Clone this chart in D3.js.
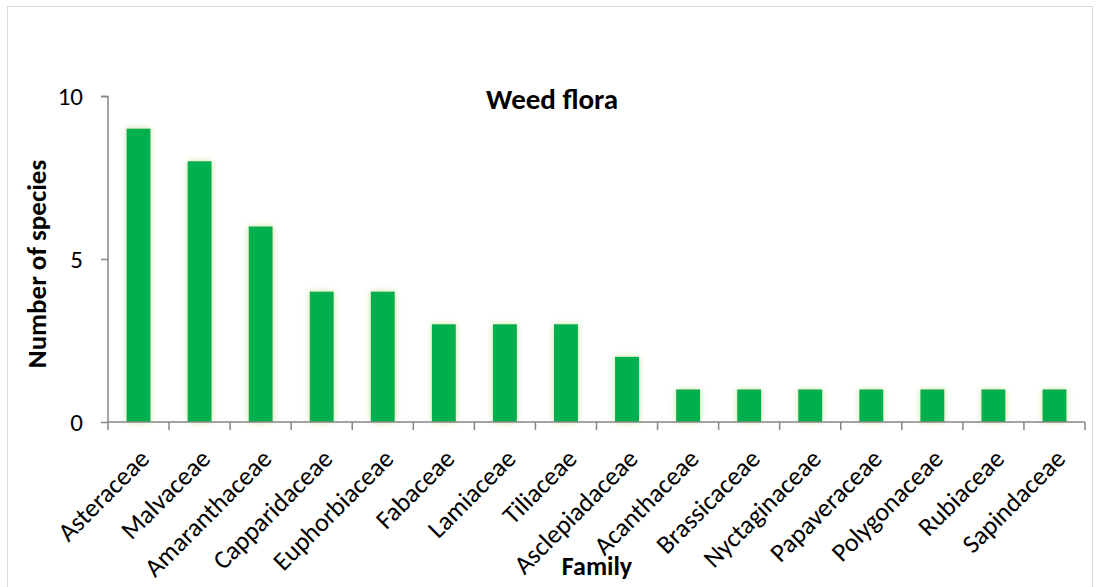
<!DOCTYPE html>
<html>
<head>
<meta charset="utf-8">
<script src="https://cdn.jsdelivr.net/npm/d3@7"></script>
<style>
  body { margin: 0; background: #fff; }
  text { font-family: Carlito, "Open Sans", "Noto Sans", sans-serif; fill: #000; }
</style>
</head>
<body>
<div id="chart"></div>
<script>
const families = ["Asteraceae", "Malvaceae", "Amaranthaceae", "Capparidaceae", "Euphorbiaceae",
    "Fabaceae", "Lamiaceae", "Tiliaceae", "Asclepiadaceae", "Acanthaceae", "Brassicaceae",
    "Nyctaginaceae", "Papaveraceae", "Polygonaceae", "Rubiaceae", "Sapindaceae"];
const species = [9, 8, 6, 4, 4, 3, 3, 3, 2, 1, 1, 1, 1, 1, 1, 1];
const yTicks = [0, 5, 10];

const W = 1099, H = 587;
const margin = { top: 96, right: 14, bottom: 165, left: 108 };
const width = W - margin.left - margin.right,
    height = H - margin.top - margin.bottom;
const AXIS = "#868686", BAR = "#00B050";

const svg = d3.select("#chart").append("svg")
    .attr("width", W)
    .attr("height", H);

// soft glow behind bars
const defs = svg.append("defs");
const glow = defs.append("filter").attr("id", "glow")
    .attr("x", "-40%").attr("y", "-10%").attr("width", "180%").attr("height", "120%");
glow.append("feGaussianBlur").attr("in", "SourceAlpha").attr("stdDeviation", 3).attr("result", "blur");
glow.append("feFlood").attr("flood-color", "#B5E08A").attr("flood-opacity", 0.8);
glow.append("feComposite").attr("in2", "blur").attr("operator", "in").attr("result", "shadow");
const merge = glow.append("feMerge");
merge.append("feMergeNode").attr("in", "shadow");
merge.append("feMergeNode").attr("in", "SourceGraphic");

// outer chart border
svg.append("rect")
    .attr("x", 7.5).attr("y", 6.5)
    .attr("width", 1085).attr("height", 600)
    .attr("fill", "none")
    .attr("stroke", "#D9D9D9");

const g = svg.append("g")
    .attr("transform", `translate(${margin.left},${margin.top})`);

const band = d3.scaleBand().domain(families).range([0, width]);

const y = d3.scaleLinear()
    .domain([0, 10])
    .range([height, 0]);

// bars
g.append("g").selectAll("rect")
    .data(families)
    .enter().append("rect")
    .attr("x", (d) => band(d) + band.bandwidth() / 2 - 12)
    .attr("width", 24)
    .attr("y", (d, i) => y(species[i]))
    .attr("height", (d, i) => height - y(species[i]))
    .attr("fill", BAR)
    .attr("filter", "url(#glow)");

// y axis
const axisY = d3.axisLeft(y).tickValues(yTicks).tickSize(7).tickPadding(18);
const gy = g.append("g").call(axisY);
gy.select(".domain").attr("stroke", AXIS).attr("stroke-width", 1.5).attr("d", `M-7,0.5H0V${height}`);
gy.selectAll(".tick line").attr("stroke", AXIS).attr("stroke-width", 1.5);
gy.selectAll(".tick text").attr("font-size", 25).style("font-family", "Carlito, 'Open Sans', sans-serif");

// x axis with ticks at band edges
const gx = g.append("g").attr("transform", `translate(0,${height})`);
gx.append("line")
    .attr("x1", 0).attr("x2", width)
    .attr("stroke", AXIS).attr("stroke-width", 1.5);
const edges = families.map((d) => band(d)).concat([width]);
gx.selectAll(".edge").data(edges).enter().append("line")
    .attr("class", "edge")
    .attr("x1", (d) => d).attr("x2", (d) => d)
    .attr("y1", 0).attr("y2", 8)
    .attr("stroke", AXIS).attr("stroke-width", 1.5);

gx.selectAll(".lbl").data(families).enter().append("text")
    .attr("class", "lbl")
    .attr("transform", (d) => `translate(${band(d) + band.bandwidth() / 2 + 8},${34}) rotate(-45)`)
    .attr("text-anchor", "end")
    .attr("dominant-baseline", "middle")
    .attr("font-size", 26)
    .text((d) => d);

// titles
svg.append("text")
    .attr("x", 552).attr("y", 109)
    .attr("text-anchor", "middle")
    .attr("font-size", 29).attr("font-weight", "bold")
    .text("Weed flora");

svg.append("text")
    .attr("transform", `translate(46, 264) rotate(-90)`)
    .attr("text-anchor", "middle")
    .attr("font-size", 27).attr("font-weight", "bold")
    .text("Number of species");

svg.append("text")
    .attr("x", 597).attr("y", 575)
    .attr("text-anchor", "middle")
    .attr("font-size", 26).attr("font-weight", "bold")
    .text("Family");
</script>
</body>
</html>
